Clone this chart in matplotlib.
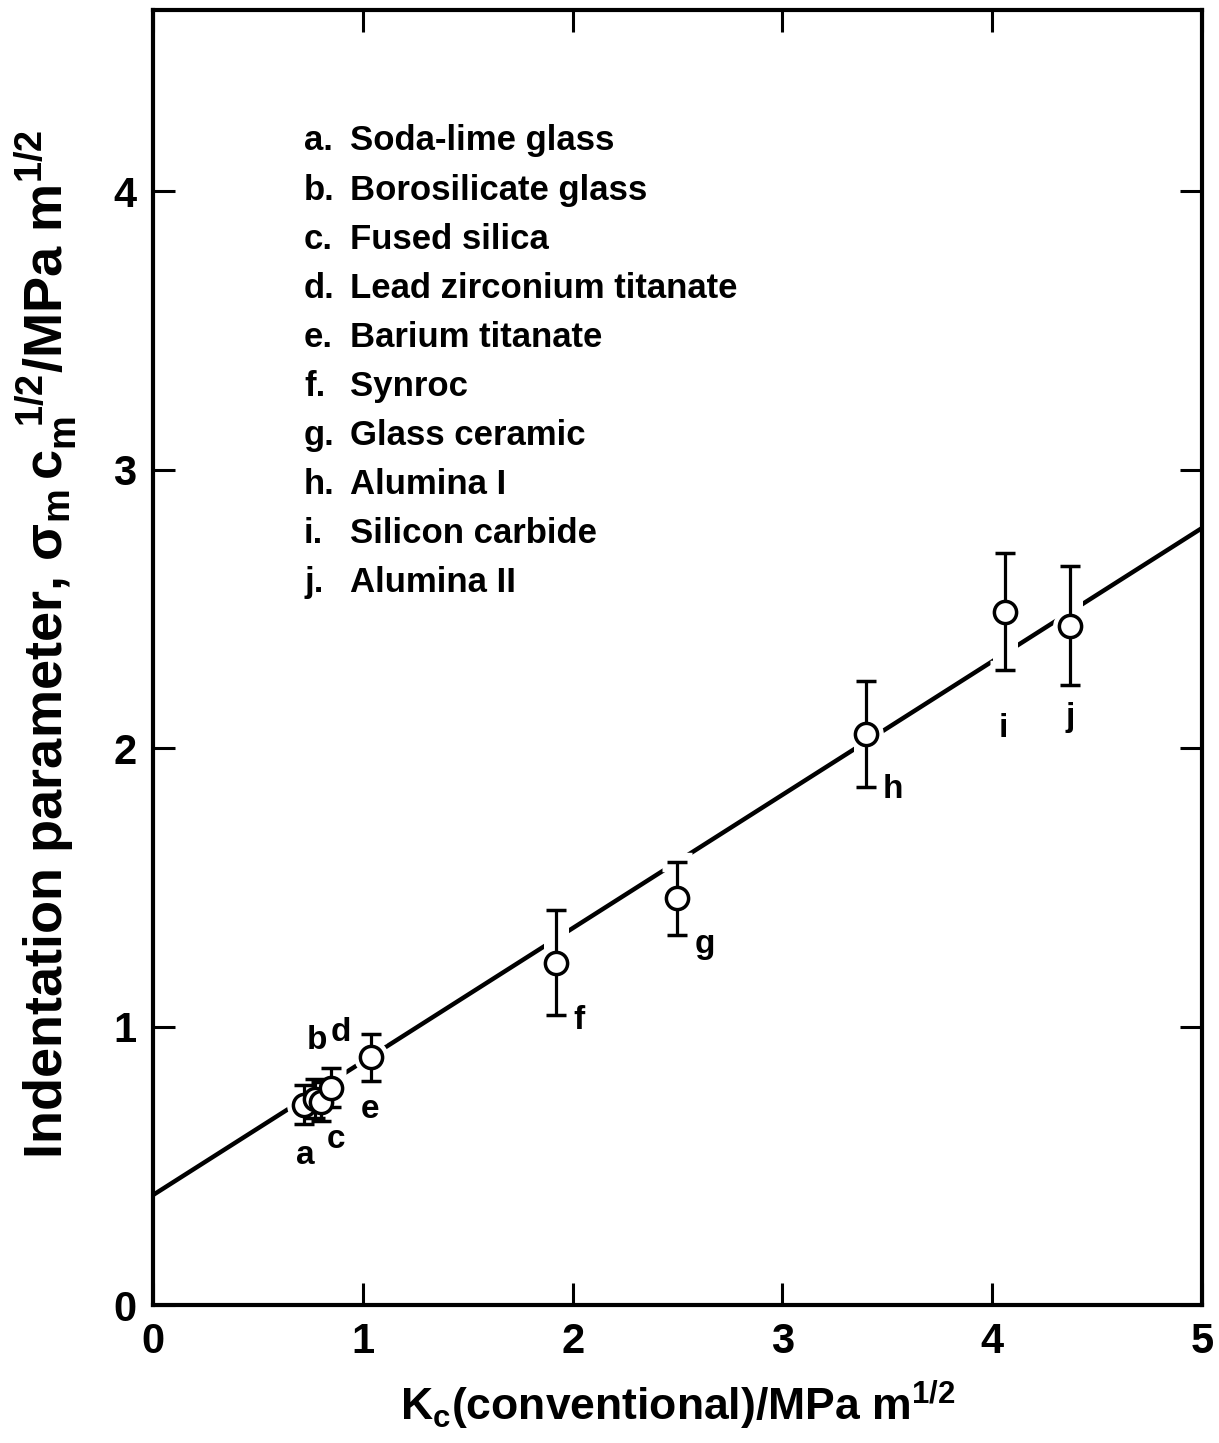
import matplotlib
matplotlib.use("Agg")
import matplotlib.pyplot as plt
import numpy as np

# data
labels = ["a", "b", "c", "d", "e", "f", "g", "h", "i", "j"]
materials = ["Soda-lime glass", "Borosilicate glass", "Fused silica",
             "Lead zirconium titanate", "Barium titanate", "Synroc",
             "Glass ceramic", "Alumina I", "Silicon carbide", "Alumina II"]
kc = [0.72, 0.77, 0.80, 0.85, 1.04, 1.92, 2.50, 3.40, 4.06, 4.37]
param = [0.72, 0.74, 0.73, 0.78, 0.89, 1.23, 1.46, 2.05, 2.49, 2.44]
err = [0.07, 0.07, 0.07, 0.07, 0.085, 0.19, 0.13, 0.19, 0.21, 0.215]
fit_x = [0.0, 5.0]
fit_y = [0.395, 2.79]

# letter offsets (points) next to each point
label_dx = [1, 2, 11, 6.5, -1, 17, 20, 19, -1, 0]
label_dy = [-37, 42, -27, 40, -38, -42, -33, -40, -84, -66]

plt.rcParams['font.family'] = ['Liberation Sans', 'DejaVu Sans']
plt.rcParams['font.weight'] = 'bold'
plt.rcParams['mathtext.fontset'] = 'custom'
plt.rcParams['mathtext.rm'] = 'Liberation Sans:bold'
plt.rcParams['mathtext.it'] = 'Liberation Sans:bold:italic'
plt.rcParams['mathtext.bf'] = 'Liberation Sans:bold'
plt.rcParams['mathtext.default'] = 'rm'

fig = plt.figure(figsize=(12.19, 14.43), dpi=100)
ax = fig.add_axes([0.1255, 0.0956, 0.8605, 0.8974])

ax.plot(fit_x, fit_y, color='black', lw=3.2, zorder=1)

# white under-layer so the fit line breaks around the bars
ax.errorbar(kc, param, yerr=err, fmt='o', ms=24, mfc='white', mec='white',
            ecolor='white', elinewidth=18, capsize=11, capthick=14, zorder=2)
ax.errorbar(kc, param, yerr=err, fmt='o', ms=16, mfc='white', mec='black',
            mew=2.5, ecolor='black', elinewidth=2.3, capsize=7.5, capthick=2.3,
            zorder=3)

for lab, x, y, dx, dy in zip(labels, kc, param, label_dx, label_dy):
    ax.annotate(lab, (x, y), xytext=(dx, dy), textcoords='offset points',
                ha='center', va='center', fontsize=24, fontweight='bold')

# material key
for k, (lab, name) in enumerate(zip(labels, materials)):
    yk = 4.18 - k * 0.176
    ax.text(0.72, yk, lab + ".", fontsize=25, fontweight='bold', ha='left', va='center')
    ax.text(0.94, yk, name, fontsize=25, fontweight='bold', ha='left', va='center')

ax.set_xlim(0, 5)
ax.set_ylim(0, 4.65)
ax.set_xticks([0, 1, 2, 3, 4, 5])
ax.set_yticks([0, 1, 2, 3, 4])
ax.tick_params(direction='in', length=16, width=2.2, labelsize=30, pad=12,
               right=True, top=True)
for lbl in ax.get_xticklabels() + ax.get_yticklabels():
    lbl.set_fontweight('bold')
for s in ax.spines.values():
    s.set_linewidth(3)

ax.set_xlabel(r'K$_\mathrm{c}$(conventional)/MPa m$^{1/2}$', fontsize=32,
              fontweight='bold', labelpad=12)
ax.set_ylabel(r'Indentation parameter, $\sigma_\mathrm{m}\,\mathrm{c}_\mathrm{m}^{\ \ 1/2}$/MPa m$^{1/2}$',
              fontsize=39, fontweight='bold')
ax.yaxis.set_label_coords(-0.07, 0.51)

fig.savefig('out.png', dpi=100)
